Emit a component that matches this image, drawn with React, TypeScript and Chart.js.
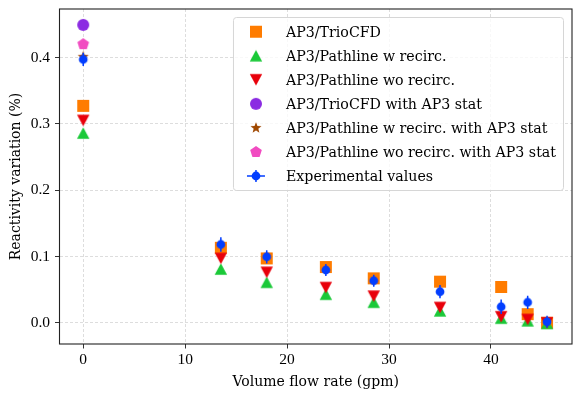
import React, { useEffect, useRef } from 'react';
import { Chart, registerables } from 'chart.js';

Chart.register(...registerables);

// ---------------- data ----------------
const flowRate = [0, 13.5, 18, 23.8, 28.5, 35, 41, 43.6, 45.5];
const trioCFD = [0.327, 0.113, 0.097, 0.084, 0.067, 0.062, 0.054, 0.013, 0.0];
const pathlineWRecirc = [0.286, 0.081, 0.061, 0.043, 0.031, 0.018, 0.007, 0.003, -0.001];
const pathlineWoRecirc = [0.305, 0.097, 0.076, 0.053, 0.04, 0.023, 0.009, 0.005, 0.0];
const statFlowRate = [0];
const trioCFDStat = [0.449];
const pathlineWRecircStat = [0.401];
const pathlineWoRecircStat = [0.42];
const expValues = [0.397, 0.118, 0.0995, 0.0795, 0.0634, 0.0468, 0.0241, 0.0308, 0.0015];
const expYErr = [0.01, 0.011, 0.01, 0.009, 0.009, 0.01, 0.011, 0.01, 0.009];
const expXErr = [0.3, 0.3, 0.3, 0.3, 0.3, 0.3, 0.3, 0.3, 0.3];
const xTicks = [0, 10, 20, 30, 40];
const yTicks = [0, 0.1, 0.2, 0.3, 0.4];
const X_MIN = -2.33;
const X_MAX = 47.95;
const Y_MIN = -0.032;
const Y_MAX = 0.473;

const labels = [
  'AP3/TrioCFD',
  'AP3/Pathline w recirc.',
  'AP3/Pathline wo recirc.',
  'AP3/TrioCFD with AP3 stat',
  'AP3/Pathline w recirc. with AP3 stat',
  'AP3/Pathline wo recirc. with AP3 stat',
  'Experimental values',
];

// ---------------- styles ----------------
const C_ORANGE = '#ff7c00';
const C_GREEN = '#1ac938';
const C_RED = '#e8000b';
const C_PURPLE = '#8b2be2';
const C_BROWN = '#9f4800';
const C_PINK = '#f14cc1';
const C_BLUE = '#023eff';
const TEXT_FONT = '"DejaVu Serif", serif';
const TICK_FONT = '"Liberation Serif", serif';
const GRID = 'rgba(160,160,160,0.45)';

function markerCanvas(kind: string, color: string): HTMLCanvasElement {
  const size = 16;
  const c = document.createElement('canvas');
  c.width = size;
  c.height = size;
  const g = c.getContext('2d')!;
  const m = size / 2;
  g.fillStyle = color;
  g.beginPath();
  if (kind === 'square') {
    g.rect(m - 6, m - 6, 12, 12);
  } else if (kind === 'circle') {
    g.arc(m, m, 6, 0, Math.PI * 2);
  } else if (kind === 'smallCircle') {
    g.arc(m, m, 4.4, 0, Math.PI * 2);
  } else if (kind === 'triUp') {
    g.moveTo(m, m - 5.7);
    g.lineTo(m + 6.2, m + 5.7);
    g.lineTo(m - 6.2, m + 5.7);
    g.closePath();
  } else if (kind === 'triDown') {
    g.moveTo(m, m + 5.7);
    g.lineTo(m + 6.2, m - 5.7);
    g.lineTo(m - 6.2, m - 5.7);
    g.closePath();
  } else if (kind === 'star') {
    const R = 5.8;
    for (let k = 0; k < 10; k++) {
      const r = k % 2 ? R * 0.42 : R;
      const a = -Math.PI / 2 + (k * Math.PI) / 5;
      const px = m + r * Math.cos(a);
      const py = m + r * Math.sin(a);
      if (k === 0) g.moveTo(px, py);
      else g.lineTo(px, py);
    }
    g.closePath();
  } else if (kind === 'pentagon') {
    const R = 6.1;
    for (let k = 0; k < 5; k++) {
      const a = -Math.PI / 2 + (k * 2 * Math.PI) / 5;
      const px = m + R * Math.cos(a);
      const py = m + R * Math.sin(a);
      if (k === 0) g.moveTo(px, py);
      else g.lineTo(px, py);
    }
    g.closePath();
  }
  g.fill();
  return c;
}

const toPoints = (xs: number[], ys: number[]) => ys.map((y, i) => ({ x: xs[i], y }));

const errorBarPlugin = {
  id: 'errorBars',
  beforeDatasetDraw(chart: any, args: any) {
    const ds = chart.data.datasets[args.index];
    if (!ds.yErr) return;
    const { ctx, scales } = chart;
    ctx.save();
    ctx.strokeStyle = ds.errColor;
    ctx.lineWidth = 1.5;
    ds.data.forEach((p: any, i: number) => {
      const x = scales.x.getPixelForValue(p.x);
      const y = scales.y.getPixelForValue(p.y);
      const y1 = scales.y.getPixelForValue(p.y - ds.yErr[i]);
      const y2 = scales.y.getPixelForValue(p.y + ds.yErr[i]);
      const x1 = scales.x.getPixelForValue(p.x - ds.xErr[i]);
      const x2 = scales.x.getPixelForValue(p.x + ds.xErr[i]);
      ctx.beginPath();
      ctx.moveTo(x, y1);
      ctx.lineTo(x, y2);
      ctx.moveTo(x1, y);
      ctx.lineTo(x2, y);
      ctx.stroke();
    });
    ctx.restore();
  },
};

const framePlugin = {
  id: 'frame',
  afterDatasetsDraw(chart: any) {
    const { ctx, chartArea } = chart;
    ctx.save();
    ctx.strokeStyle = '#222';
    ctx.lineWidth = 1.1;
    ctx.strokeRect(chartArea.left, chartArea.top, chartArea.right - chartArea.left, chartArea.bottom - chartArea.top);
    ctx.restore();
  },
};

const legendPlugin = {
  id: 'mplLegend',
  afterDraw(chart: any) {
    const { ctx, chartArea } = chart;
    const dss = chart.data.datasets;
    ctx.save();
    ctx.font = `14.2px ${TEXT_FONT}`;
    const maxW = Math.max(...dss.map((d: any) => ctx.measureText(d.label).width));
    const right = chartArea.right - 9;
    const top = chartArea.top + 8;
    const w = 53 + maxW + 7;
    const left = right - w;
    const h = 173;
    const rowH = 24.05;
    ctx.beginPath();
    ctx.roundRect(left + 0.5, top + 0.5, w, h, 3);
    ctx.fillStyle = 'rgba(255,255,255,0.8)';
    ctx.fill();
    ctx.strokeStyle = '#d6d6d6';
    ctx.lineWidth = 1;
    ctx.stroke();
    dss.forEach((ds: any, i: number) => {
      const y = top + 14.7 + i * rowH;
      const mx = left + 23;
      if (ds.yErr) {
        ctx.strokeStyle = ds.errColor;
        ctx.lineWidth = 1.5;
        ctx.beginPath();
        ctx.moveTo(mx - 9, y);
        ctx.lineTo(mx + 9, y);
        ctx.moveTo(mx, y - 6);
        ctx.lineTo(mx, y + 6);
        ctx.stroke();
      }
      const img = ds.pointStyle as HTMLCanvasElement;
      ctx.drawImage(img, mx - img.width / 2, y - img.height / 2);
      ctx.fillStyle = '#000';
      ctx.textBaseline = 'alphabetic';
      ctx.textAlign = 'left';
      ctx.fillText(ds.label, left + 53, y + 5);
    });
    ctx.restore();
  },
};

const noPad = (s: any) => {
  s.paddingTop = 0;
  s.paddingBottom = 0;
  s.paddingLeft = 0;
  s.paddingRight = 0;
};

export default function App() {
  const ref = useRef<HTMLCanvasElement | null>(null);

  useEffect(() => {
    document.body.style.margin = '0';
    const canvas = ref.current;
    if (!canvas) return;

    const mk = (label: string, xs: number[], ys: number[], kind: string, color: string, order: number, extra: any = {}) => ({
      label,
      data: toPoints(xs, ys),
      pointStyle: markerCanvas(kind, color),
      pointRadius: 6,
      pointHoverRadius: 6,
      showLine: false,
      backgroundColor: color,
      borderColor: color,
      order,
      ...extra,
    });

    const datasets: any[] = [
      mk(labels[0], flowRate, trioCFD, 'square', C_ORANGE, 6),
      mk(labels[1], flowRate, pathlineWRecirc, 'triUp', C_GREEN, 5),
      mk(labels[2], flowRate, pathlineWoRecirc, 'triDown', C_RED, 4),
      mk(labels[3], statFlowRate, trioCFDStat, 'circle', C_PURPLE, 3),
      mk(labels[4], statFlowRate, pathlineWRecircStat, 'star', C_BROWN, 2),
      mk(labels[5], statFlowRate, pathlineWoRecircStat, 'pentagon', C_PINK, 1),
      mk(labels[6], flowRate, expValues, 'smallCircle', C_BLUE, 0, { yErr: expYErr, xErr: expXErr, errColor: C_BLUE }),
    ];

    const tickFont = { family: TICK_FONT, size: 15.5 };
    const titleFont = { family: TEXT_FONT, size: 14 };

    const chart = new Chart(canvas, {
      type: 'scatter',
      data: { datasets },
      options: {
        animation: false,
        responsive: true,
        maintainAspectRatio: false,
        layout: { padding: { top: 9, right: 9, left: 0, bottom: 0 } },
        plugins: { legend: { display: false }, tooltip: { enabled: false } },
        scales: {
          x: {
            type: 'linear',
            min: X_MIN,
            max: X_MAX,
            afterFit: (s: any) => {
              s.height = 54;
              noPad(s);
            },
            afterBuildTicks: (s: any) => {
              s.ticks = xTicks.map((v) => ({ value: v }));
            },
            ticks: {
              font: tickFont,
              color: '#000',
              padding: 2,
              maxRotation: 0,
              autoSkip: false,
              callback: (v: any) => String(v),
            },
            grid: { color: GRID, lineWidth: 0.8, tickLength: 4.5, tickColor: '#333', tickWidth: 1, tickBorderDash: [] },
            border: { display: false, dash: [3, 2] },
            title: { display: true, text: 'Volume flow rate (gpm)', font: titleFont, color: '#000', padding: { top: 0, bottom: 7.5 } },
          },
          y: {
            type: 'linear',
            min: Y_MIN,
            max: Y_MAX,
            afterFit: (s: any) => {
              s.width = 59.5;
              noPad(s);
            },
            afterBuildTicks: (s: any) => {
              s.ticks = yTicks.map((v) => ({ value: v }));
            },
            ticks: {
              font: tickFont,
              color: '#000',
              padding: 5,
              autoSkip: false,
              callback: (v: any) => Number(v).toFixed(1),
            },
            grid: { color: GRID, lineWidth: 0.8, tickLength: 4.5, tickColor: '#333', tickWidth: 1, tickBorderDash: [] },
            border: { display: false, dash: [3, 2] },
            title: { display: true, text: 'Reactivity variation (%)', font: titleFont, color: '#000', padding: { top: 8, bottom: 0 } },
          },
        },
      } as any,
      plugins: [errorBarPlugin, framePlugin, legendPlugin],
    });

    return () => chart.destroy();
  }, []);

  return (
    <div style={{ position: 'absolute', left: 0, top: 0, width: 581, height: 398 }}>
      <canvas ref={ref} />
    </div>
  );
}
